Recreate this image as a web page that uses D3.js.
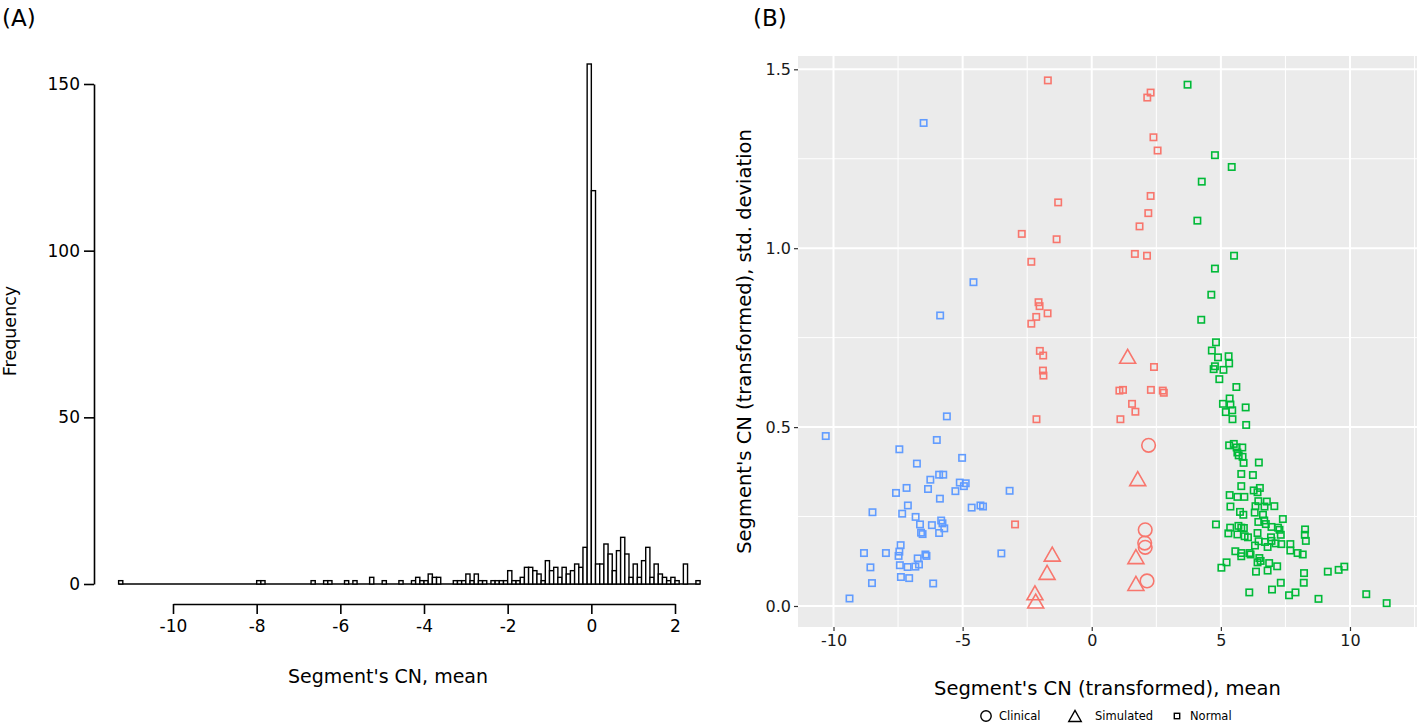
<!DOCTYPE html>
<html>
<head>
<meta charset="utf-8">
<script src="https://cdn.jsdelivr.net/npm/d3@7"></script>
<style>
  html, body { margin: 0; padding: 0; background: #fff; }
  svg { display: block; }
  text { font-family: "DejaVu Sans", sans-serif; }
</style>
</head>
<body>
<svg id="chart" width="1417" height="724"></svg>
<script>
// ---------------- Panel A data: histogram (bin width 0.1, lower edges) ----------------
const histBinWidth = 0.1;
const histBins = [-11.3, -8.0, -7.9, -6.7, -6.4, -6.3, -5.9, -5.7, -5.3, -5.0,
  -4.6, -4.3, -4.2, -4.1, -4.0, -3.9, -3.8, -3.7,
  -3.3, -3.2, -3.1, -3.0, -2.9, -2.8, -2.7, -2.6, -2.4, -2.3, -2.2, -2.1,
  -2.0, -1.9, -1.8, -1.7, -1.6, -1.5, -1.4, -1.3, -1.2, -1.1, -1.0, -0.9,
  -0.8, -0.7, -0.6, -0.5, -0.4, -0.3, -0.2, -0.1, 0.0, 0.1, 0.2, 0.3, 0.4,
  0.5, 0.6, 0.7, 0.8, 0.9, 1.0, 1.1, 1.2, 1.3, 1.4, 1.5, 1.6, 1.7, 1.8, 1.9,
  2.0, 2.2, 2.5];
const histCounts = [1, 1, 1, 1, 1, 1, 1, 1, 2, 1,
  1, 1, 2, 1, 1, 3, 2, 2,
  1, 1, 1, 3, 1, 3, 1, 1, 1, 1, 1, 1,
  4, 1, 1, 2, 5, 5, 4, 3, 1, 7, 4, 5,
  2, 5, 3, 4, 6, 5, 11, 156, 118, 6, 6, 12, 9,
  4, 10, 14, 9, 2, 6, 2, 7, 11, 2, 6, 3, 2, 1, 2,
  1, 6, 1];
const histXTicks = [-10, -8, -6, -4, -2, 0, 2];
const histYTicks = [0, 50, 100, 150];

// ---------------- Panel B data: scatter ----------------
const blueNormalX = [-6.51,-4.58,-5.87,-10.30,-9.38,-5.61,-6.00,-7.45,-5.02,-6.77,-5.91,-5.75,-6.25,-5.11,-4.88,-4.95,-7.17,-6.34,-3.18,-5.28,-7.58,-5.88,-7.12,-4.65,-4.31,-4.21,-8.49,-7.34,-6.82,-6.65,-6.19,-5.83,-5.78,-5.71,-5.91,-6.61,-6.55,-8.82,-7.97,-7.40,-7.45,-7.48,-6.44,-6.40,-6.74,-8.57,-7.43,-7.13,-6.83,-6.69,-7.39,-7.07,-8.51,-6.14,-3.50];
const blueNormalY = [1.350,0.905,0.812,0.475,0.021,0.530,0.464,0.438,0.414,0.398,0.367,0.367,0.353,0.345,0.343,0.335,0.330,0.327,0.322,0.321,0.316,0.300,0.281,0.275,0.281,0.278,0.262,0.258,0.249,0.228,0.226,0.239,0.231,0.217,0.204,0.205,0.201,0.148,0.148,0.170,0.152,0.140,0.144,0.140,0.133,0.108,0.114,0.109,0.110,0.116,0.081,0.078,0.064,0.063,0.147];

const redNormalX = [-1.70,-1.30,-2.71,-1.36,-2.34,-2.06,-2.02,-1.71,-2.15,-2.34,2.28,2.15,2.39,2.55,2.28,2.19,1.85,1.67,2.14,-2.01,-1.88,-1.89,-1.87,-2.14,-2.97,2.41,1.07,1.21,2.29,2.75,2.79,1.56,1.69,1.11];
const redNormalY = [1.469,1.128,1.040,1.025,0.962,0.849,0.838,0.818,0.808,0.789,1.435,1.421,1.310,1.273,1.146,1.098,1.061,0.984,0.979,0.713,0.700,0.658,0.644,0.522,0.228,0.668,0.602,0.604,0.604,0.602,0.596,0.565,0.543,0.522];

const redSimulatedX = [-1.53,-1.73,-2.20,-2.17,1.39,1.78,1.71,1.71];
const redSimulatedY = [0.145,0.094,0.037,0.014,0.698,0.356,0.138,0.063];

const redClinicalX = [2.20,2.07,2.05,2.07,2.14];
const redClinicalY = [0.449,0.213,0.176,0.164,0.070];

const greenNormalX = [3.71,4.77,5.42,4.26,4.09,5.51,4.77,4.63,4.24,
  4.81,4.65,4.89,5.30,5.32,4.77,4.72,5.10,4.94,5.60,5.34,5.08,5.37,5.96,5.19,5.44,5.45,5.98,
  5.32,5.50,5.61,5.83,5.64,5.69,5.84,5.88,6.47,5.79,6.24,5.79,6.27,6.42,6.51,5.34,5.64,5.91,
  6.45,6.78,5.37,6.34,6.69,7.07,5.74,5.87,6.31,6.63,7.40,6.45,6.68,6.74,4.81,5.36,5.68,5.79,
  5.89,6.96,7.21,7.27,8.26,5.29,5.64,5.92,6.05,6.42,6.94,7.32,8.25,6.46,6.71,6.96,7.12,7.34,
  8.29,6.32,6.81,7.69,7.69,7.97,8.17,5.56,5.79,5.79,6.11,6.15,6.49,6.54,6.42,6.87,7.18,5.22,
  5.02,6.36,6.81,8.22,9.14,9.56,9.78,7.32,8.21,6.98,6.10,7.89,7.64,8.78,10.63,11.42];
const greenNormalY = [1.457,1.260,1.227,1.186,1.077,0.979,0.943,0.870,0.800,
  0.737,0.714,0.695,0.698,0.678,0.670,0.662,0.660,0.634,0.612,0.580,0.565,0.563,0.555,0.542,0.547,0.522,0.506,
  0.449,0.453,0.443,0.443,0.429,0.421,0.417,0.400,0.401,0.369,0.366,0.335,0.323,0.318,0.330,0.310,0.305,0.305,
  0.293,0.292,0.278,0.279,0.278,0.279,0.263,0.255,0.261,0.255,0.243,0.235,0.239,0.229,0.228,0.219,0.224,0.219,
  0.218,0.221,0.219,0.213,0.214,0.203,0.200,0.195,0.192,0.204,0.192,0.199,0.199,0.181,0.179,0.182,0.175,0.173,
  0.182,0.169,0.165,0.173,0.155,0.148,0.144,0.153,0.148,0.139,0.148,0.144,0.134,0.126,0.122,0.120,0.111,0.122,
  0.107,0.096,0.099,0.092,0.096,0.101,0.110,0.065,0.065,0.046,0.038,0.038,0.030,0.020,0.033,0.008];

const scatterXTicks = [-10, -5, 0, 5, 10];
const scatterXMinor = [-7.5, -2.5, 2.5, 7.5, 12.5];
const scatterYTicks = [0, 0.5, 1.0, 1.5];
const scatterYMinor = [0.25, 0.75, 1.25];
const legendLabels = ["Clinical", "Simulated", "Normal"];

const RED = "#F8766D", GREEN = "#00BA38", BLUE = "#619CFF";

const svg = d3.select("#chart");

// ================= Panel A =================
const xA = d3.scaleLinear().domain([-10, 2]).range([173, 675]);
const yA = d3.scaleLinear().domain([0, 150]).range([584, 84]);

svg.append("text").attr("x", 2).attr("y", 26).attr("font-size", 23).text("(A)");

const gA = svg.append("g");
const firstBin = d3.min(histBins), lastBin = d3.max(histBins) + histBinWidth;
gA.append("line")
  .attr("x1", xA(firstBin)).attr("x2", xA(lastBin))
  .attr("y1", yA(0)).attr("y2", yA(0))
  .attr("stroke", "#000").attr("stroke-width", 1.6);

gA.selectAll("rect.bar").data(histBins.map((b, i) => ({b, c: histCounts[i]})))
  .join("rect").attr("class", "bar")
  .attr("x", d => xA(d.b))
  .attr("width", d => xA(d.b + histBinWidth) - xA(d.b))
  .attr("y", d => yA(d.c))
  .attr("height", d => yA(0) - yA(d.c))
  .attr("fill", "#fff").attr("stroke", "#000").attr("stroke-width", 1.4);

const axA_y = svg.append("g").attr("transform", "translate(94,0)")
  .call(d3.axisLeft(yA).tickValues(histYTicks).tickSize(10).tickSizeOuter(0).tickPadding(4).tickFormat(d => String(d)));
const axA_x = svg.append("g").attr("transform", "translate(0,604)")
  .call(d3.axisBottom(xA).tickValues(histXTicks).tickSize(10).tickSizeOuter(0).tickPadding(6).tickFormat(d => String(d)));
[axA_y, axA_x].forEach(g => {
  g.select(".domain").attr("stroke", "#000").attr("stroke-width", 1.6);
  g.selectAll(".tick line").attr("stroke", "#000").attr("stroke-width", 1.6);
  g.selectAll(".tick text").attr("font-size", 17).attr("fill", "#000").attr("font-family", "DejaVu Sans, sans-serif");
});

svg.append("text").attr("x", 388).attr("y", 683).attr("text-anchor", "middle")
  .attr("font-size", 19).text("Segment's CN, mean");
svg.append("text").attr("transform", "translate(16,331) rotate(-90)").attr("text-anchor", "middle")
  .attr("font-size", 17.5).text("Frequency");

// ================= Panel B =================
const panel = {x0: 798, x1: 1417, y0: 56, y1: 627};
const xB = d3.scaleLinear().domain([-10, 10]).range([833.5, 1350]);
const yB = d3.scaleLinear().domain([0, 1.5]).range([606, 69.3]);

svg.append("text").attr("x", 753).attr("y", 26).attr("font-size", 23).text("(B)");

svg.append("rect").attr("x", panel.x0).attr("y", panel.y0)
  .attr("width", panel.x1 - panel.x0).attr("height", panel.y1 - panel.y0).attr("fill", "#EBEBEB");

const grid = svg.append("g");
grid.selectAll("line.vmin").data(scatterXMinor.filter(v => xB(v) < panel.x1)).join("line")
  .attr("x1", d => xB(d)).attr("x2", d => xB(d)).attr("y1", panel.y0).attr("y2", panel.y1)
  .attr("stroke", "#fff").attr("stroke-width", 1);
grid.selectAll("line.hmin").data(scatterYMinor).join("line")
  .attr("y1", d => yB(d)).attr("y2", d => yB(d)).attr("x1", panel.x0).attr("x2", panel.x1)
  .attr("stroke", "#fff").attr("stroke-width", 1);
grid.selectAll("line.vmaj").data(scatterXTicks).join("line")
  .attr("x1", d => xB(d)).attr("x2", d => xB(d)).attr("y1", panel.y0).attr("y2", panel.y1)
  .attr("stroke", "#fff").attr("stroke-width", 2);
grid.selectAll("line.hmaj").data(scatterYTicks).join("line")
  .attr("y1", d => yB(d)).attr("y2", d => yB(d)).attr("x1", panel.x0).attr("x2", panel.x1)
  .attr("stroke", "#fff").attr("stroke-width", 2);

const axB_y = svg.append("g").attr("transform", `translate(${panel.x0},0)`)
  .call(d3.axisLeft(yB).tickValues(scatterYTicks).tickSize(4).tickSizeOuter(0).tickPadding(3).tickFormat(d3.format(".1f")));
const axB_x = svg.append("g").attr("transform", `translate(0,${panel.y1})`)
  .call(d3.axisBottom(xB).tickValues(scatterXTicks).tickSize(4).tickSizeOuter(0).tickPadding(4).tickFormat(d => String(d)));
[axB_y, axB_x].forEach(g => {
  g.select(".domain").remove();
  g.selectAll(".tick line").attr("stroke", "#333").attr("stroke-width", 1.2);
  g.selectAll(".tick text").attr("font-size", 16).attr("fill", "#1a1a1a").attr("font-family", "DejaVu Sans, sans-serif");
});

function trianglePath(cx, cy, w, h) {
  return `M${cx - w / 2},${cy + h / 2}L${cx + w / 2},${cy + h / 2}L${cx},${cy - h / 2}Z`;
}

const pts = svg.append("g");
function drawSquares(xs, ys, color) {
  pts.append("g").selectAll("rect").data(xs.map((x, i) => [x, ys[i]])).join("rect")
    .attr("x", d => xB(d[0]) - 3.2).attr("y", d => yB(d[1]) - 3.2)
    .attr("width", 6.4).attr("height", 6.4)
    .attr("fill", "none").attr("stroke", color).attr("stroke-width", 1.6);
}
drawSquares(blueNormalX, blueNormalY, BLUE);
drawSquares(redNormalX, redNormalY, RED);
drawSquares(greenNormalX, greenNormalY, GREEN);

pts.append("g").selectAll("path").data(redSimulatedX.map((x, i) => [x, redSimulatedY[i]])).join("path")
  .attr("d", d => trianglePath(xB(d[0]), yB(d[1]), 16, 14))
  .attr("fill", "none").attr("stroke", RED).attr("stroke-width", 1.6);
pts.append("g").selectAll("circle").data(redClinicalX.map((x, i) => [x, redClinicalY[i]])).join("circle")
  .attr("cx", d => xB(d[0])).attr("cy", d => yB(d[1])).attr("r", 6.8)
  .attr("fill", "none").attr("stroke", RED).attr("stroke-width", 1.6);

svg.append("text").attr("x", (panel.x0 + panel.x1) / 2).attr("y", 695).attr("text-anchor", "middle")
  .attr("font-size", 19.5).attr("fill", "#000").text("Segment's CN (transformed), mean");
svg.append("text").attr("transform", `translate(751,${(panel.y0 + panel.y1) / 2}) rotate(-90)`).attr("text-anchor", "middle")
  .attr("font-size", 19.5).attr("fill", "#000").text("Segment's CN (transformed), std. deviation");

const lg = svg.append("g");
const legendY = 716;
lg.append("circle").attr("cx", 986).attr("cy", legendY).attr("r", 5.2)
  .attr("fill", "none").attr("stroke", "#000").attr("stroke-width", 1.4);
lg.append("path").attr("d", trianglePath(1075, legendY, 12.5, 11))
  .attr("fill", "none").attr("stroke", "#000").attr("stroke-width", 1.4);
lg.append("rect").attr("x", 1177 - 2.7).attr("y", legendY - 2.7).attr("width", 5.4).attr("height", 5.4)
  .attr("fill", "none").attr("stroke", "#000").attr("stroke-width", 1.4);
const legendTextX = [999, 1095, 1190];
lg.selectAll("text").data(legendLabels).join("text")
  .attr("x", (d, i) => legendTextX[i]).attr("y", legendY + 4)
  .attr("font-size", 11.5).attr("fill", "#000").text(d => d);
</script>
</body>
</html>
